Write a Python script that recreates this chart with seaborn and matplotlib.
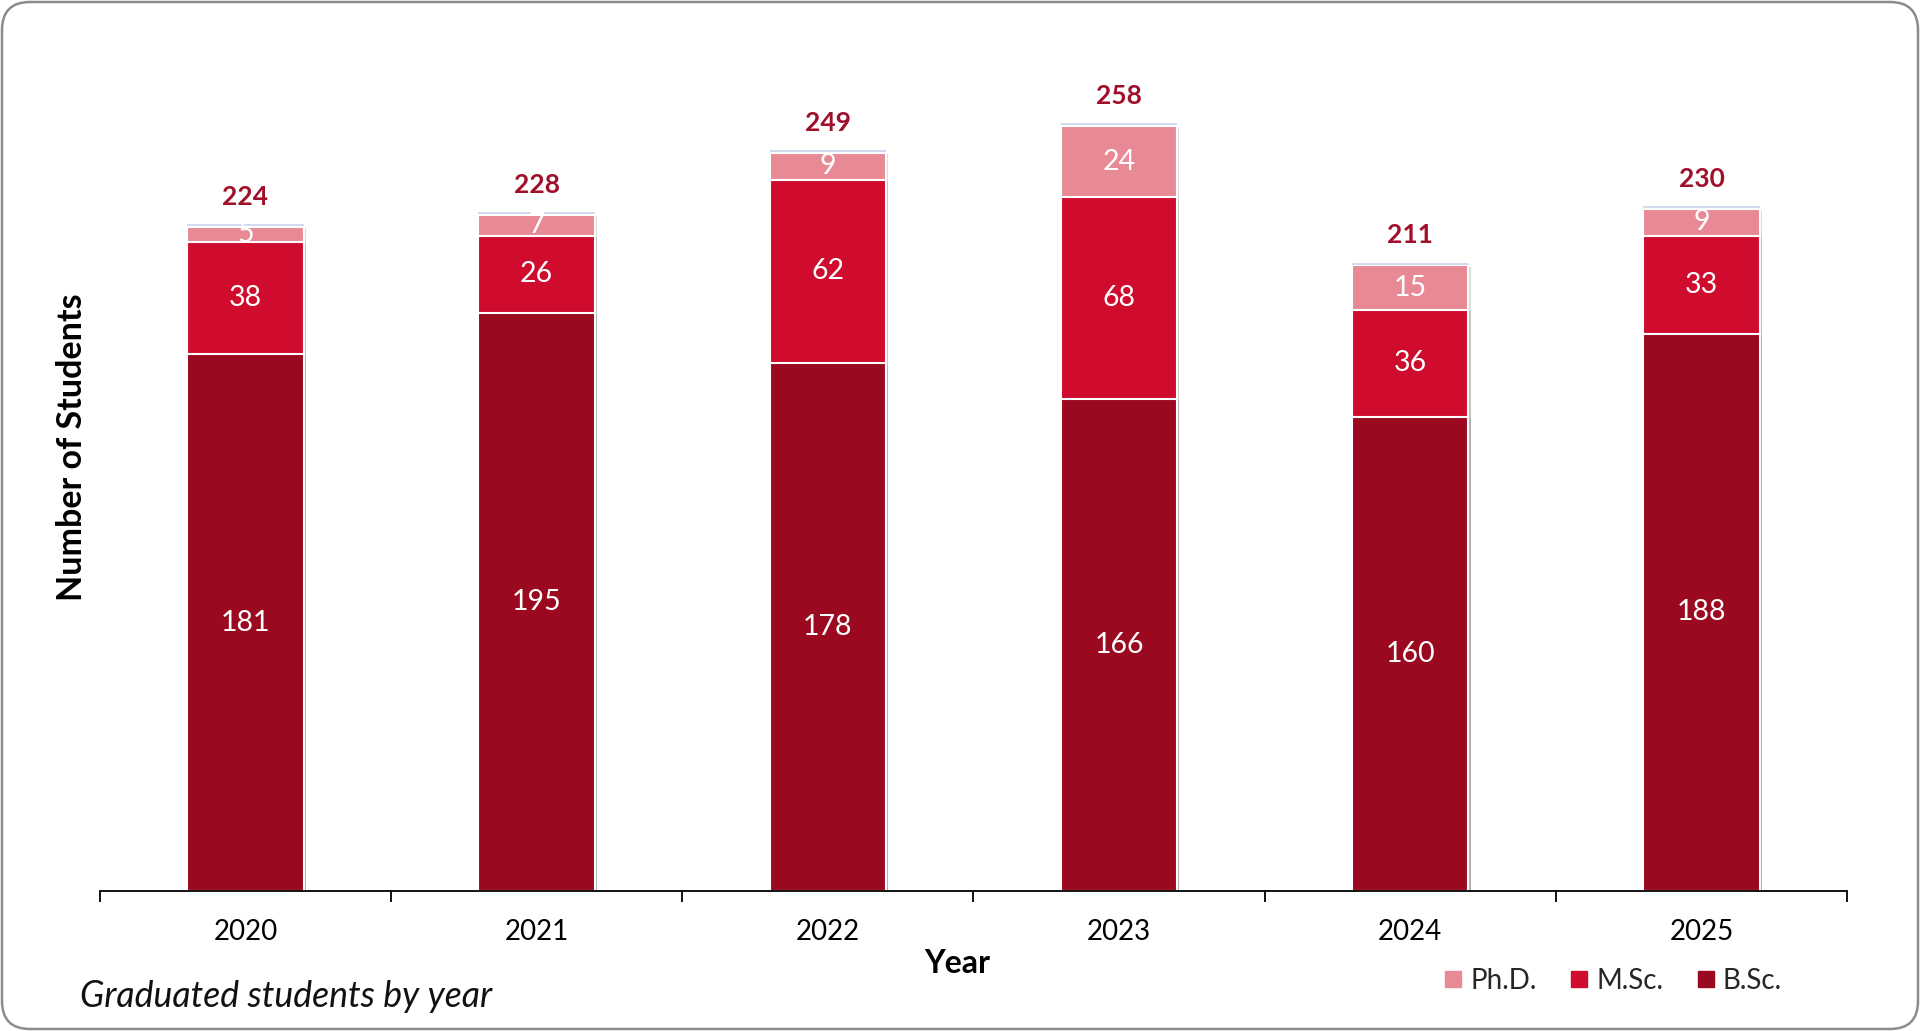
import numpy as np
import pandas as pd
import matplotlib.pyplot as plt
import seaborn as sns
import matplotlib.patheffects as pe
from matplotlib.patches import FancyBboxPatch
from matplotlib.lines import Line2D

# Data
years = ['2020', '2021', '2022', '2023', '2024', '2025']
bsc = [181, 195, 178, 166, 160, 188]
msc = [38, 26, 62, 68, 36, 33]
phd = [5, 7, 9, 24, 15, 9]

c_bsc = '#9B0920'
c_msc = '#D00C2E'
c_phd = '#E88A96'
c_total = '#A0102A'

sns.set_theme(style='white')
plt.rcParams['font.family'] = ['Lato', 'DejaVu Sans']

df = pd.DataFrame({'Year': years, 'B.Sc.': bsc, 'M.Sc.': msc, 'Ph.D.': phd})
df['bm'] = df['B.Sc.'] + df['M.Sc.']
df['total'] = df['bm'] + df['Ph.D.']

fig = plt.figure(figsize=(19.2, 10.31), dpi=100)
ax = fig.add_axes([0.052, 0.136, 0.910, 0.825])

# stacked bars drawn as overlapping cumulative bars
shadow = [pe.SimplePatchShadow(offset=(1.5, -1), shadow_rgbFace='#888888', alpha=0.3), pe.Normal()]
for col, color in [('total', c_phd), ('bm', c_msc), ('B.Sc.', c_bsc)]:
    sns.barplot(data=df, x='Year', y=col, color=color, saturation=1, width=0.4,
                edgecolor='white', linewidth=1.5, ax=ax)
for p in ax.patches:
    p.set_path_effects(shadow)

# thin line on top of each bar
x = np.arange(len(years))
ax.hlines(df['total'] + 0.6, x - 0.2, x + 0.2, color='#c9d3ea', lw=1.2)

# segment labels
for i in range(len(years)):
    ax.text(i, bsc[i] / 2, str(bsc[i]), ha='center', va='center', color='white', fontsize=20.5)
    ax.text(i, bsc[i] + msc[i] / 2, str(msc[i]), ha='center', va='center', color='white', fontsize=20.5)
    ax.text(i, df['bm'][i] + phd[i] / 2, str(phd[i]), ha='center', va='center', color='white', fontsize=20.5)
    ax.annotate(str(df['total'][i]), (i, df['total'][i]), xytext=(0, 13), textcoords='offset points',
                ha='center', va='bottom', color=c_total, fontsize=19, fontweight='bold')

ax.set_xlim(-0.5, 5.5)
ax.set_ylim(0, 287)
ax.set_yticks([])
for s in ['left', 'top', 'right']:
    ax.spines[s].set_visible(False)
ax.spines['bottom'].set_color('black')
ax.spines['bottom'].set_linewidth(1.3)
ax.set_xticks(np.arange(-0.5, 6), minor=True)
ax.tick_params(axis='x', which='minor', bottom=True, length=8, width=1.3, color='black', direction='out')
ax.tick_params(axis='x', which='major', bottom=False, length=0, pad=20, labelsize=20, labelcolor='black')

ax.set_xlabel('Year', fontsize=23, fontweight='bold', color='black')
ax.xaxis.set_label_coords(0.4906, -0.068)
ax.set_ylabel('Number of Students', fontsize=24.5, fontweight='bold', color='black')
ax.yaxis.set_label_coords(-0.007, 0.522)

# legend
handles = [Line2D([], [], marker='s', ls='', markersize=11, markerfacecolor=c, markeredgecolor=c)
           for c in [c_phd, c_msc, c_bsc]]
fig.legend(handles, ['Ph.D.', 'M.Sc.', 'B.Sc.'], loc='center', bbox_to_anchor=(0.840, 0.0485),
           ncol=3, frameon=False, fontsize=20, handletextpad=0.25, columnspacing=1.2, handlelength=0.7)

fig.text(0.0417, 0.033, 'Graduated students by year', style='italic', fontsize=25.7, va='center', color='#111111')

# rounded border
border = FancyBboxPatch((2, 2), 1916, 1027, boxstyle='round,pad=0,rounding_size=28', transform=None,
                        fill=False, edgecolor='#8c8c8c', lw=1.8)
fig.add_artist(border)

fig.savefig('out.png', dpi=100)
